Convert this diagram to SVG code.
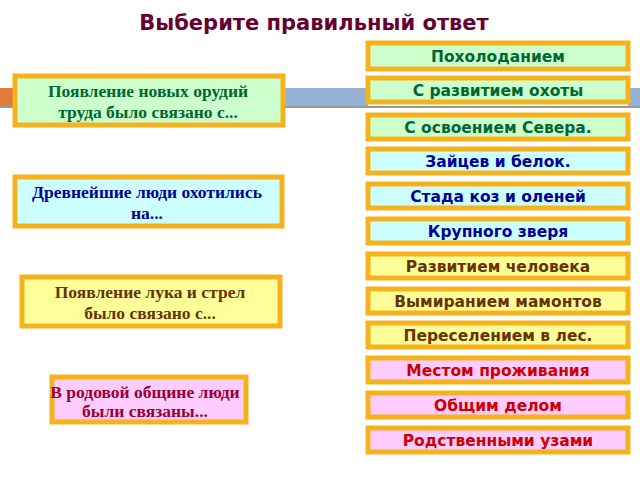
<svg xmlns="http://www.w3.org/2000/svg" width="640" height="480" viewBox="0 0 640 480">
<style>
.b{stroke:#f5b21c;stroke-width:5}
.g{fill:#ccffcc}.c{fill:#ccffff}.y{fill:#ffff99}.p{fill:#ffccff}
.r{font-family:"DejaVu Sans",sans-serif;font-weight:bold;font-size:15.5px;text-anchor:middle}
.l{font-family:"Liberation Serif",serif;font-weight:bold;font-size:17.5px;text-anchor:middle}
</style>
<rect width="640" height="480" fill="#fff"/>
<rect x="0" y="88" width="16" height="18" fill="#e07b3c"/>
<rect x="284" y="88" width="84" height="18" fill="#95b3d7"/>
<rect x="628" y="88" width="12" height="18" fill="#95b3d7"/>
<rect x="0" y="106" width="640" height="2" fill="#999"/>
<text x="314" y="30" font-family="DejaVu Sans,sans-serif" font-weight="bold" font-size="21" fill="#660033" text-anchor="middle">Выберите правильный ответ</text>
<g id="q1"><rect class="b g" x="15" y="76" width="268" height="49"/><text class="l" fill="#006633" x="148" y="97">Появление новых орудий</text><text class="l" fill="#006633" x="148" y="118">труда было связано с...</text></g>
<g id="q2"><rect class="b c" x="15" y="177" width="267" height="49"/><text class="l" fill="#000099" x="147" y="198">Древнейшие люди охотились</text><text class="l" fill="#000099" x="147" y="219">на...</text></g>
<g id="q3"><rect class="b y" x="22" y="277" width="258" height="49"/><text class="l" fill="#663300" x="150" y="298">Появление лука и стрел</text><text class="l" fill="#663300" x="150" y="319">было связано с...</text></g>
<g id="q4"><rect class="b p" x="52" y="377" width="194" height="45"/><text class="l" fill="#990033" x="145" y="398" font-size="16">В родовой общине люди</text><text class="l" fill="#990033" x="145" y="417" font-size="16">были связаны...</text></g>
<g id="a1"><rect class="b g" x="368" y="43" width="260" height="26"/><text class="r" fill="#006633" x="498" y="62">Похолоданием</text></g>
<g id="a2"><rect class="b g" x="368" y="78" width="260" height="24"/><text class="r" fill="#006633" x="498" y="96">С развитием охоты</text></g>
<g id="a3"><rect class="b g" x="368" y="115" width="260" height="24"/><text class="r" fill="#006633" x="498" y="133">С освоением Севера.</text></g>
<g id="a4"><rect class="b c" x="368" y="149" width="260" height="24"/><text class="r" fill="#000099" x="498" y="167">Зайцев и белок.</text></g>
<g id="a5"><rect class="b c" x="368" y="184" width="260" height="24"/><text class="r" fill="#000099" x="498" y="202">Стада коз и оленей</text></g>
<g id="a6"><rect class="b c" x="368" y="219" width="260" height="24"/><text class="r" fill="#000099" x="498" y="237">Крупного зверя</text></g>
<g id="a7"><rect class="b y" x="368" y="254" width="260" height="24"/><text class="r" fill="#663300" x="498" y="272">Развитием человека</text></g>
<g id="a8"><rect class="b y" x="368" y="289" width="260" height="24"/><text class="r" fill="#663300" x="498" y="307">Вымиранием мамонтов</text></g>
<g id="a9"><rect class="b y" x="368" y="323" width="260" height="24"/><text class="r" fill="#663300" x="498" y="341">Переселением в лес.</text></g>
<g id="a10"><rect class="b p" x="368" y="358" width="260" height="24"/><text class="r" fill="#cc0000" x="498" y="376">Местом проживания</text></g>
<g id="a11"><rect class="b p" x="368" y="393" width="260" height="24"/><text class="r" fill="#cc0000" x="498" y="411">Общим делом</text></g>
<g id="a12"><rect class="b p" x="368" y="428" width="260" height="24"/><text class="r" fill="#cc0000" x="498" y="446">Родственными узами</text></g>
<g id="connectors"/>
</svg>
